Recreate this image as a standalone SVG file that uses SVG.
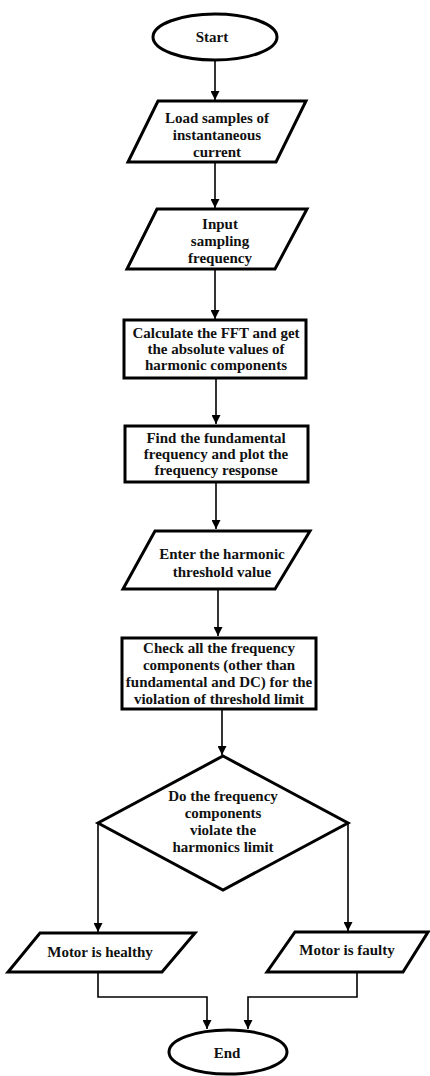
<svg xmlns="http://www.w3.org/2000/svg" width="430" height="1076" viewBox="0 0 430 1076">
<defs>
<marker id="ah" viewBox="0 0 10 10" refX="10" refY="5" markerWidth="9" markerHeight="9" markerUnits="userSpaceOnUse" orient="auto">
<path d="M0,0 L10,5 L0,10 Z" fill="#000"/>
</marker>
<style>
.sh{fill:#fff;stroke:#000;stroke-width:3;stroke-linejoin:miter}
.t{font-family:"Liberation Serif","Times New Roman",serif;font-weight:bold;font-size:15px;fill:#111;text-anchor:middle}
.c{fill:none;stroke:#000;stroke-width:1.6;marker-end:url(#ah)}
</style>
</defs>
<rect width="430" height="1076" fill="#fff"/>
<g id="connectors">
<path class="c" d="M215,60 L215,100"/>
<path class="c" d="M215,162 L215,208"/>
<path class="c" d="M215,269 L215,319"/>
<path class="c" d="M216,378 L216,424"/>
<path class="c" d="M216,482 L216,529"/>
<path class="c" d="M218,589 L218,636"/>
<path class="c" d="M222,709 L222,755"/>
<path class="c" d="M98,823 L98,932"/>
<path class="c" d="M348,823 L348,931"/>
<path class="c" d="M98,972 L98,997 L207,997 L207,1029"/>
<path class="c" d="M357,972 L357,997 L248,997 L248,1029"/>
</g>
<g id="start">
<ellipse class="sh" cx="215" cy="37" rx="62" ry="23"/>
<text class="t" x="212" y="42">Start</text>
</g>
<g id="load">
<polygon class="sh" points="158,101 306,101 276,162 128,162"/>
<text class="t" x="217" y="123">Load samples of</text>
<text class="t" x="217" y="140">instantaneous</text>
<text class="t" x="217" y="157">current</text>
</g>
<g id="input">
<polygon class="sh" points="157,209 307,209 275,269 127,269"/>
<text class="t" x="220" y="229">Input</text>
<text class="t" x="220" y="246">sampling</text>
<text class="t" x="220" y="263">frequency</text>
</g>
<g id="fft">
<rect class="sh" x="124" y="320" width="182" height="58"/>
<text class="t" x="216" y="338">Calculate the FFT and get</text>
<text class="t" x="216" y="354">the absolute values of</text>
<text class="t" x="216" y="370">harmonic components</text>
</g>
<g id="fund">
<rect class="sh" x="125" y="426" width="183" height="56"/>
<text class="t" x="216" y="443">Find the fundamental</text>
<text class="t" x="216" y="459">frequency and plot the</text>
<text class="t" x="216" y="475">frequency response</text>
</g>
<g id="thresh">
<polygon class="sh" points="155,531 310,531 275,589 123,589"/>
<text class="t" x="222" y="559">Enter the harmonic</text>
<text class="t" x="222" y="577">threshold value</text>
</g>
<g id="check">
<rect class="sh" x="122" y="638" width="194" height="71"/>
<text class="t" x="219" y="653">Check all the frequency</text>
<text class="t" x="219" y="670">components (other than</text>
<text class="t" x="219" y="687">fundamental and DC) for the</text>
<text class="t" x="219" y="704">violation of threshold limit</text>
</g>
<g id="decision">
<polygon class="sh" points="223,756 348,823 223,890 98,823"/>
<text class="t" x="223" y="801">Do the frequency</text>
<text class="t" x="223" y="818">components</text>
<text class="t" x="223" y="835">violate the</text>
<text class="t" x="223" y="852">harmonics limit</text>
</g>
<g id="healthy">
<polygon class="sh" points="40,933 195,933 162,972 8,972"/>
<text class="t" x="100" y="957">Motor is healthy</text>
</g>
<g id="faulty">
<polygon class="sh" points="295,932 428,932 403,972 267,972"/>
<text class="t" x="347" y="955">Motor is faulty</text>
</g>
<g id="end">
<ellipse class="sh" cx="228" cy="1052" rx="59" ry="22"/>
<text class="t" x="227" y="1058">End</text>
</g>
</svg>
